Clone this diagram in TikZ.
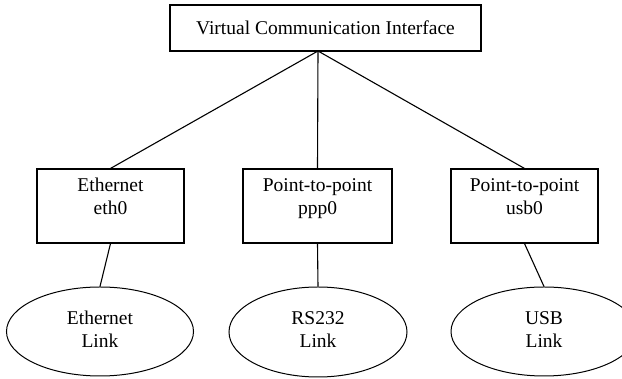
\documentclass[tikz,border=0pt]{standalone}
\usepackage{fontspec}
\setmainfont{Liberation Serif}
\usetikzlibrary{shapes.geometric}
\begin{document}
\begin{tikzpicture}[x=1pt,y=1pt,
  every node/.style={font=\fontsize{19.5}{23}\selectfont, align=center, inner sep=0pt},
  boxnode/.style={draw, line width=1.1pt, rectangle, minimum height=74pt},
  linknode/.style={draw, line width=1pt, ellipse, minimum height=89pt},
  conn/.style={line width=1.1pt}]
\useasboundingbox (0,0) rectangle (622,379);
\node[draw, line width=1.1pt, minimum width=311pt, minimum height=46pt] (top) at (325.5,351) {Virtual Communication Interface};
\node[boxnode, minimum width=147pt] (eth) at (110.5,173) {};
\node[boxnode, minimum width=149pt] (ppp) at (317.5,173) {};
\node[boxnode, minimum width=147pt] (usb) at (524.5,173) {};
\node (etht) at ([yshift=7.5pt]eth.center) {\strut Ethernet\\\strut eth0};
\node (pppt) at ([yshift=7.5pt]ppp.center) {\strut Point-to-point\\\strut ppp0};
\node (usbt) at ([yshift=7.5pt]usb.center) {\strut Point-to-point\\\strut usb0};
\node[linknode, minimum width=187pt] (ethl) at (100,47.5) {};
\node[linknode, minimum width=178pt, minimum height=90pt] (rsl) at (318,47) {};
\node[linknode, minimum width=186pt] (usbl) at (544,47.5) {};
\node (ethlt) at ([yshift=0.5pt]ethl.center) {\strut Ethernet\\\strut Link};
\node (rslt) at ([yshift=0.5pt]rsl.center) {\strut RS232\\\strut Link};
\node (usblt) at ([yshift=0.5pt]usbl.center) {\strut USB\\\strut Link};
\coordinate (hub) at (318,328);
\draw[conn] (hub) -- (eth.north);
\draw[conn] (hub) -- (ppp.north);
\draw[conn] (hub) -- (usb.north);
\draw[conn] (eth.south) -- (ethl.north);
\draw[conn] (ppp.south) -- (rsl.north);
\draw[conn] (usb.south) -- (usbl.north);
\end{tikzpicture}
\end{document}
